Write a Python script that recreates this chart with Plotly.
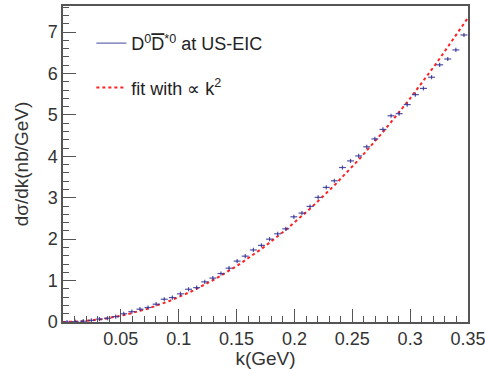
import numpy as np
import plotly.graph_objects as go

# bin centres (GeV) and measured dsigma/dk (nb/GeV)
k_centers = [0.0035 + 0.007 * i for i in range(50)]
dsdk = [0.00, 0.01, 0.02, 0.04, 0.07, 0.09, 0.13, 0.20, 0.25, 0.31,
        0.35, 0.43, 0.55, 0.59, 0.68, 0.79, 0.83, 0.97, 1.06, 1.17,
        1.30, 1.47, 1.59, 1.74, 1.85, 2.00, 2.13, 2.25, 2.54, 2.63,
        2.79, 3.01, 3.25, 3.41, 3.73, 3.89, 4.01, 4.23, 4.42, 4.65,
        4.98, 5.03, 5.25, 5.49, 5.64, 5.91, 6.21, 6.35, 6.57, 6.93]
x_err = 0.003
y_err = 0.05
fit_coeff = 60.0  # sigma' = a * k^2
x_tick_vals = [0.05, 0.1, 0.15, 0.2, 0.25, 0.3, 0.35]
x_tick_text = ["0.05", "0.1", "0.15", "0.2", "0.25", "0.3", "0.35"]
y_tick_vals = [0, 1, 2, 3, 4, 5, 6, 7]

blue = "rgba(50,50,150,0.85)"
red = "#ff2020"
font = "Liberation Sans, Arial, sans-serif"
txt = "#333333"

k_fit = np.linspace(0.0, 0.35, 300)
fig = go.Figure()
fig.add_trace(go.Scatter(
    x=k_fit, y=fit_coeff * k_fit ** 2, mode="lines",
    line=dict(color=red, width=2, dash="dot"), showlegend=False))
fig.add_trace(go.Scatter(
    x=k_centers, y=dsdk, mode="markers",
    marker=dict(size=1, color=blue),
    error_x=dict(type="constant", value=x_err, width=0, thickness=1.2, color=blue),
    error_y=dict(type="constant", value=y_err, width=0, thickness=1.2, color=blue),
    showlegend=False))
# legend entries
fig.add_trace(go.Scatter(
    x=[None], y=[None], mode="lines", line=dict(color="rgba(90,90,170,0.9)", width=1.2),
    name="D<sup>0</sup><span style='text-decoration:overline'>D</span><sup>*0</sup> at US-EIC",
    legendgroup="a"))
fig.add_trace(go.Scatter(
    x=[None], y=[None], mode="lines", line=dict(color=red, width=2, dash="dot"),
    name="fit with \u221d k<sup>2</sup>", legendgroup="b"))

axis_common = dict(
    showline=True, linecolor="#555555", linewidth=1.5, mirror=True,
    ticks="inside", ticklen=13, tickwidth=1, tickcolor="#555555",
    showgrid=False, zeroline=False, automargin=False,
    ticklabeloverflow="allow",
    tickfont=dict(family=font, size=18, color=txt),
)
fig.update_xaxes(
    range=[0.0, 0.35], tickvals=x_tick_vals, ticktext=x_tick_text,
    minor=dict(ticks="inside", ticklen=6, dtick=0.01, tick0=0, tickcolor="#555555", showgrid=False),
    title=dict(text="k(GeV)", font=dict(family=font, size=19, color=txt), standoff=2),
    **axis_common)
fig.update_yaxes(
    range=[0, 7.63], tickvals=y_tick_vals,
    minor=dict(ticks="inside", ticklen=6, dtick=0.2, tick0=0, tickcolor="#555555", showgrid=False),
    title=dict(text="d\u03c3/dk(nb/GeV)", font=dict(family=font, size=19, color=txt), standoff=14),
    **axis_common)
fig.update_layout(
    width=485, height=369,
    margin=dict(l=63, r=17, t=6, b=47),
    paper_bgcolor="white", plot_bgcolor="white",
    legend=dict(x=0.07, y=0.94, xanchor="left", yanchor="top",
                bgcolor="rgba(0,0,0,0)", font=dict(family=font, size=18, color="#222222"),
                tracegroupgap=18, itemwidth=30),
)
fig.write_html("out.html")
